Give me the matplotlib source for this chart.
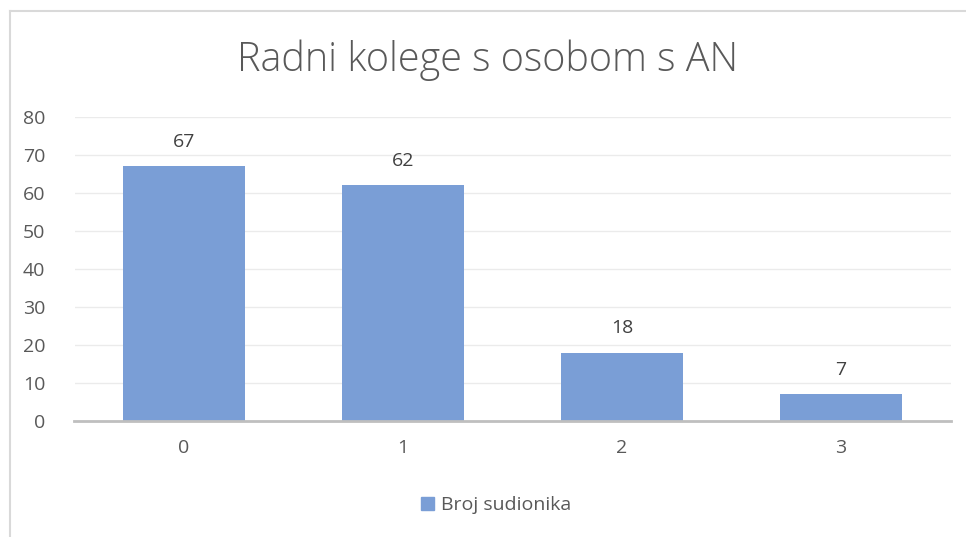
import matplotlib
matplotlib.use("Agg")
import matplotlib.pyplot as plt
from matplotlib.patches import Rectangle
from matplotlib.lines import Line2D

categories = ["0", "1", "2", "3"]
values = [67, 62, 18, 7]
series_name = "Broj sudionika"
title = "Radni kolege s osobom s AN"
yticks = [0, 10, 20, 30, 40, 50, 60, 70, 80]

W, H = 966, 537
fig = plt.figure(figsize=(W / 100, H / 100), dpi=100)
fig.patch.set_facecolor("white")

# chart border (left & top visible)
fig.add_artist(Line2D([10 / W, 10 / W], [0, 1 - 11 / H], transform=fig.transFigure, color="#D9D9D9", lw=1.5))
fig.add_artist(Line2D([10 / W, 1], [1 - 11 / H, 1 - 11 / H], transform=fig.transFigure, color="#D9D9D9", lw=1.5))

left, right = 74.5, 950.5
top, bottom = 117, 421
ax = fig.add_axes([left / W, 1 - bottom / H, (right - left) / W, (bottom - top) / H])
x = list(range(len(categories)))
bars = ax.bar(x, values, width=0.557, color="#7A9ED6", zorder=3)
ax.set_xlim(-0.5, len(categories) - 0.5)
ax.set_ylim(0, 80)
ax.set_yticks(yticks)
ax.set_xticks(x)
ax.set_xticklabels(categories)
ax.grid(axis="y", color="#EBEBEB", lw=1, zorder=0)
for s in ["left", "right", "top"]:
    ax.spines[s].set_visible(False)
ax.spines["bottom"].set_color("#BFBFBF")
ax.spines["bottom"].set_linewidth(2)
ax.spines["bottom"].set_zorder(4)
ax.tick_params(axis="both", length=0, labelsize=14, labelcolor="#595959")
ax.tick_params(axis="y", pad=21)
ax.tick_params(axis="x", pad=13)
for lab in ax.get_xticklabels() + ax.get_yticklabels():
    lab.set_family("Open Sans")

for b, v in zip(bars, values):
    ax.annotate(str(v), (b.get_x() + b.get_width() / 2, v), xytext=(0, 11), textcoords="offset points",
                ha="center", va="bottom", fontsize=14, color="#404040", family="Open Sans")

fig.text(0.5 * (10 + W) / W, 1 - 60 / H, title, ha="center", va="center", fontsize=28.5,
         color="#595959", family="Open Sans", fontweight="light")

# legend
ax.legend([Rectangle((0, 0), 1, 1, color="#7A9ED6")], [series_name], loc="center",
          bbox_to_anchor=((496 - left) / (right - left), -(505 - bottom) / (bottom - top)),
          frameon=False, handlelength=0.65, handleheight=0.65, handletextpad=0.35,
          labelcolor="#595959", prop={"family": "Open Sans", "size": 14})

fig.savefig("out.png", dpi=100, facecolor="white")
